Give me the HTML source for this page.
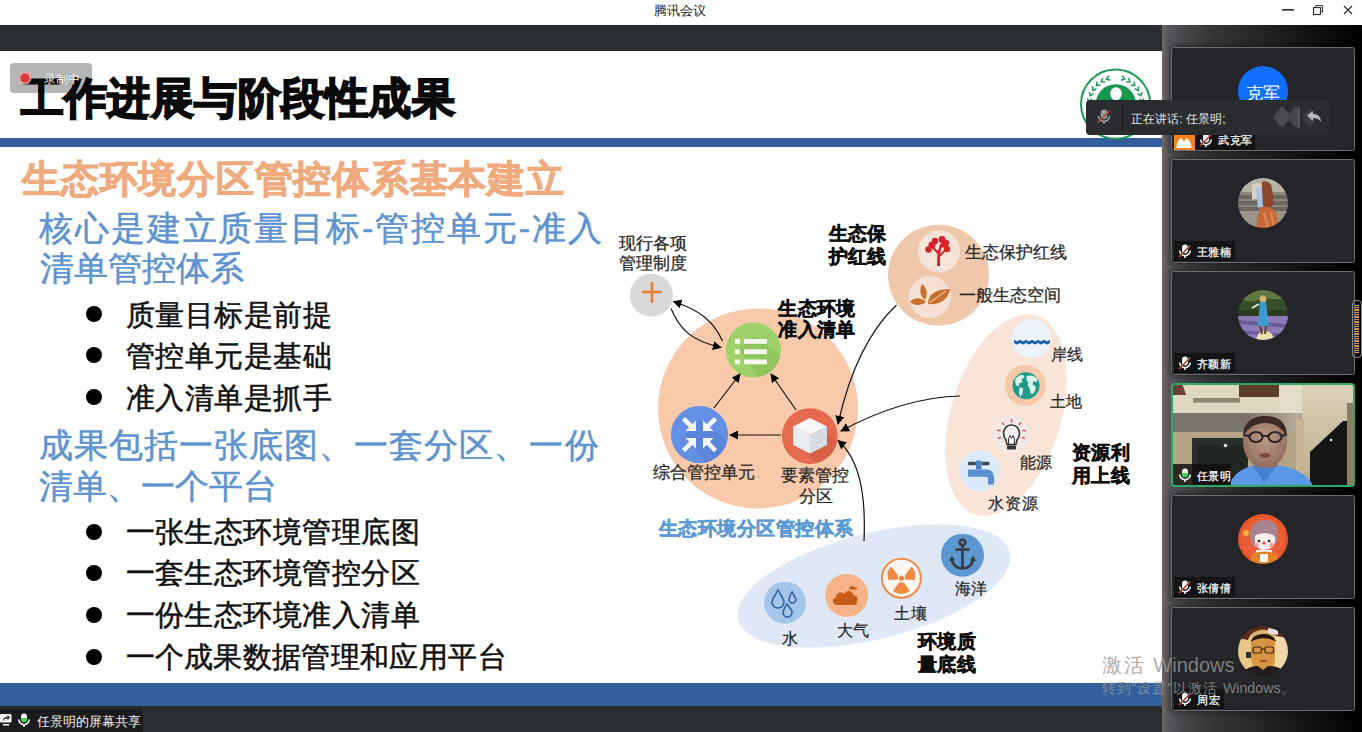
<!DOCTYPE html>
<html><head><meta charset="utf-8"><title>腾讯会议</title><style>
*{margin:0;padding:0;box-sizing:border-box}
html,body{width:1362px;height:732px;overflow:hidden;background:#fff}
body{position:relative;font-family:"Liberation Sans",sans-serif}
.t{position:absolute;line-height:1;white-space:nowrap;text-align:justify;text-align-last:justify}
.a{position:absolute}
svg{position:absolute;left:0;top:0;overflow:visible}
</style></head>
<body>
<div class="a" style="left:0;top:0;width:1362px;height:25px;background:#fff"></div>
<div class="t" style="left:654.0px;top:4.0px;font-size:13px;width:52.0px;color:#1a1a1a;">腾讯会议</div>
<svg width="1362" height="25" style="left:0;top:0">
<rect x="1282" y="9" width="12" height="1.6" fill="#333"/>
<rect x="1313.5" y="7.5" width="7" height="7" fill="none" stroke="#333" stroke-width="1.2"/>
<path d="M1316 7.5 V5.5 H1322.5 V12 H1320.5" fill="none" stroke="#444" stroke-width="1.2"/>
<path d="M1344 6 L1352 14 M1352 6 L1344 14" stroke="#333" stroke-width="1.3"/>
</svg>
<div class="a" style="left:0;top:25px;width:1162px;height:26px;background:#2b2e31"></div>
<div class="a" style="left:0;top:51px;width:1162px;height:655px;background:#fff"></div>
<div class="a" style="left:0;top:138px;width:1162px;height:9px;background:#325e9c"></div>
<div class="a" style="left:0;top:683px;width:1162px;height:23px;background:#335f9c"></div>
<div class="a" style="left:0;top:706px;width:1162px;height:26px;background:#2b2e31"></div>
<div class="t" style="left:20.5px;top:76.6px;font-size:42.8px;width:434.0px;color:#0a0a0a;font-weight:bold;-webkit-text-stroke:1.8px #0a0a0a;">工作进展与阶段性成果</div>
<div class="t" style="left:22.0px;top:161.2px;font-size:37.5px;width:542.0px;color:#efab7e;font-weight:bold;-webkit-text-stroke:0.9px #efab7e;">生态环境分区管控体系基本建立</div>
<div class="t" style="left:39.0px;top:210.5px;font-size:34px;width:563.0px;color:#5d93cf;-webkit-text-stroke:0.5px #5d93cf;">核心是建立质量目标-管控单元-准入</div>
<div class="t" style="left:39.5px;top:251.3px;font-size:34px;width:204.0px;color:#5d93cf;-webkit-text-stroke:0.5px #5d93cf;">清单管控体系</div>
<div class="t" style="left:38.5px;top:428.3px;font-size:34px;width:560.0px;color:#5d93cf;-webkit-text-stroke:0.5px #5d93cf;">成果包括一张底图、一套分区、一份</div>
<div class="t" style="left:38.5px;top:468.5px;font-size:34px;width:238.0px;color:#5d93cf;-webkit-text-stroke:0.5px #5d93cf;">清单、一个平台</div>
<div class="t" style="left:125.5px;top:301.3px;font-size:29px;width:206.5px;color:#111;-webkit-text-stroke:0.5px #111;">质量目标是前提</div>
<div class="a" style="left:85.7px;top:305.6px;width:16px;height:16px;border-radius:50%;background:#000"></div>
<div class="t" style="left:125.5px;top:342.4px;font-size:29px;width:206.5px;color:#111;-webkit-text-stroke:0.5px #111;">管控单元是基础</div>
<div class="a" style="left:85.7px;top:347.4px;width:16px;height:16px;border-radius:50%;background:#000"></div>
<div class="t" style="left:125.5px;top:384.2px;font-size:29px;width:206.5px;color:#111;-webkit-text-stroke:0.5px #111;">准入清单是抓手</div>
<div class="a" style="left:85.7px;top:389.0px;width:16px;height:16px;border-radius:50%;background:#000"></div>
<div class="t" style="left:125.5px;top:517.5px;font-size:29px;width:294.0px;color:#111;-webkit-text-stroke:0.5px #111;">一张生态环境管理底图</div>
<div class="a" style="left:85.7px;top:523.5px;width:16px;height:16px;border-radius:50%;background:#000"></div>
<div class="t" style="left:125.5px;top:558.8px;font-size:29px;width:294.0px;color:#111;-webkit-text-stroke:0.5px #111;">一套生态环境管控分区</div>
<div class="a" style="left:85.7px;top:564.8px;width:16px;height:16px;border-radius:50%;background:#000"></div>
<div class="t" style="left:125.5px;top:601.0px;font-size:29px;width:294.0px;color:#111;-webkit-text-stroke:0.5px #111;">一份生态环境准入清单</div>
<div class="a" style="left:85.7px;top:607.0px;width:16px;height:16px;border-radius:50%;background:#000"></div>
<div class="t" style="left:125.5px;top:643.0px;font-size:29px;width:381.0px;color:#111;-webkit-text-stroke:0.5px #111;">一个成果数据管理和应用平台</div>
<div class="a" style="left:85.7px;top:649.0px;width:16px;height:16px;border-radius:50%;background:#000"></div>
<svg width="1362" height="732" viewBox="0 0 1362 732">
<defs><marker id="ah" viewBox="0 0 10 10" refX="9" refY="5" markerWidth="9" markerHeight="9" markerUnits="userSpaceOnUse" orient="auto"><path d="M0 0 L10 5 L0 10 z" fill="#000"/></marker></defs>
<circle cx="758" cy="408.5" r="100" fill="#f8caab"/>
<circle cx="938.5" cy="275.2" r="50.5" fill="#efc8ab"/>
<circle cx="939" cy="251.3" r="21" fill="#f7e4d9"/>
<circle cx="929.8" cy="297" r="21" fill="#f6e1d4"/>
<ellipse cx="1006" cy="415" rx="55" ry="104" transform="rotate(17 1006 415)" fill="#f9e5d8"/>
<ellipse cx="874" cy="586" rx="140" ry="53" transform="rotate(-14 874 586)" fill="#dfe8f6"/>
<circle cx="651.4" cy="295.2" r="21.5" fill="#d9d9d9"/>
<path d="M642 292 H662 M652 282 V303" stroke="#ea7d37" stroke-width="2.6"/>
<circle cx="753.4" cy="350" r="27.5" fill="#9ed169"/>
<clipPath id="sg"><circle cx="753.4" cy="350" r="27.5"/></clipPath><path clip-path="url(#sg)" d="M739.4 350 L753.4 336 L800.9 369.5 L772.9 397.5 Z" fill="#7fb850" opacity="0.45"/>
<rect x="735" y="339" width="5" height="4.8" fill="#f7f8f0"/><rect x="744" y="339" width="23" height="4.8" fill="#f7f8f0"/>
<rect x="735" y="349.3" width="5" height="4.8" fill="#f7f8f0"/><rect x="744" y="349.3" width="23" height="4.8" fill="#f7f8f0"/>
<rect x="735" y="359.5" width="5" height="4.8" fill="#f7f8f0"/><rect x="744" y="359.5" width="23" height="4.8" fill="#f7f8f0"/>
<circle cx="699.5" cy="434.6" r="28.6" fill="#6390e4"/>
<clipPath id="sb"><circle cx="699.5" cy="434.6" r="28.6"/></clipPath><path clip-path="url(#sb)" d="M685.5 434.6 L699.5 420.6 L748.1 455.20000000000005 L720.1 483.20000000000005 Z" fill="#4a74c8" opacity="0.35"/>
<circle cx="809.8" cy="436.1" r="27.9" fill="#e66a4f"/>
<clipPath id="sr"><circle cx="809.8" cy="436.1" r="27.9"/></clipPath><path clip-path="url(#sr)" d="M795.8 436.1 L809.8 422.1 L857.6999999999999 456.0 L829.6999999999999 484.0 Z" fill="#c9553e" opacity="0.45"/>
<path d="M810 418 L827 426.5 L810 435 L793 426.5 Z" fill="#f7f7f9"/>
<path d="M793 426.5 L810 435 L810 453.5 L793 445 Z" fill="#e9edf2"/>
<path d="M810 435 L827 426.5 L827 445 L810 453.5 Z" fill="#d5dce4"/>
<path d="M696.0 431.1 L685.5 431.1 L696.0 420.6 Z" fill="#f4f7fd"/><path d="M692.0 427.1 L683.5 418.6" stroke="#f4f7fd" stroke-width="4.4"/>
<path d="M703.0 431.1 L713.5 431.1 L703.0 420.6 Z" fill="#f4f7fd"/><path d="M707.0 427.1 L715.5 418.6" stroke="#f4f7fd" stroke-width="4.4"/>
<path d="M696.0 438.1 L685.5 438.1 L696.0 448.6 Z" fill="#f4f7fd"/><path d="M692.0 442.1 L683.5 450.6" stroke="#f4f7fd" stroke-width="4.4"/>
<path d="M703.0 438.1 L713.5 438.1 L703.0 448.6 Z" fill="#f4f7fd"/><path d="M707.0 442.1 L715.5 450.6" stroke="#f4f7fd" stroke-width="4.4"/>
<g fill="#d8232a"><path d="M937 266 L937.5 254 L931 247 L932.5 246 L938 251 L940 244 L942 244.5 L940 254 L945 249 L946.5 250 L940 257 L940 266 Z"/><circle cx="932" cy="245" r="3.6"/><circle cx="928.5" cy="249.5" r="3.2"/><circle cx="935" cy="241" r="3.2"/><circle cx="942" cy="239.5" r="3.4"/><circle cx="946" cy="243" r="3.2"/><circle cx="947" cy="249" r="3.2"/><circle cx="943" cy="245" r="2.6"/></g>
<g fill="#c8712f"><path d="M928 304 C928 294 936 289 950 289 C948 300 940 305 928 304 Z"/><path d="M925 300 C920 296 919 290 922 284 C927 288 928 294 925 300 Z"/><path d="M910 302 C914 297 921 297 926 302 C921 306 914 306 910 302 Z"/></g>
<path d="M929 303 L946 291" stroke="#f6e1d4" stroke-width="0.9"/>
<circle cx="1031.5" cy="339" r="19.5" fill="#edf3fa"/>
<path d="M1014 339.5 q3 3.5 6 0 q3 3.5 6 0 q3 3.5 6 0 q3 3.5 6 0 q3 3.5 6 0 q3 3.5 6 0 v3.2 q-3 3.5 -6 0 q-3 3.5 -6 0 q-3 3.5 -6 0 q-3 3.5 -6 0 q-3 3.5 -6 0 q-3 3.5 -6 0 z" fill="#1f63ad"/>
<circle cx="1025.3" cy="385.3" r="20.5" fill="#f7c9aa"/>
<circle cx="1026" cy="385.8" r="13.5" fill="#1c9b8b"/>
<g transform="translate(2.5 0.3)">
<g fill="#dff0ea"><path d="M1012.5 380 C1014 376 1018 374 1021 375 L1022 377 L1019 379 L1020 382 L1017 383 L1016 386 L1013.5 385 Z"/><path d="M1017 387 L1020.5 388 L1020 393 L1018 397 L1016.5 393 Z"/><path d="M1024 376 C1028 374 1033 376 1035 379 L1034 382 L1031 381 L1030 384 L1033 386 L1033 390 L1030 394 L1028 393 L1027 388 L1025 385 L1026 382 L1024 380 Z"/></g>
</g>
<circle cx="1011.5" cy="434" r="18.5" fill="#f1e9e6"/>
<g transform="translate(0.5 4.5)">
<g stroke="#e0525a" stroke-width="1.5"><path d="M1011 414.5 v3.5 M1001.5 418 l2 2.5 M1020.5 418 l-2 2.5 M996.5 426 h3.5 M1022 426 h3.5 M997.5 434 l3-1 M1024.5 434 l-3-1"/></g>
<path d="M1005.5 435.5 C1001 430 1003 420.5 1011 420.5 C1019 420.5 1021 430 1016.5 435.5 L1015.5 440 H1006.5 Z" fill="#f4f0ef" stroke="#333" stroke-width="1.6"/>
<path d="M1008 440 v-6 l1.5 -3 l1.5 3 l1.5 -3 l1.5 3 v6" fill="none" stroke="#333" stroke-width="1"/>
<rect x="1006.5" y="441" width="9" height="4" rx="1" fill="#333"/>
</g>
<circle cx="979.8" cy="471" r="20.5" fill="#dce9f7"/>
<rect x="968" y="461.8" width="8" height="3.4" rx="1.2" fill="#3f4a55"/><rect x="981.5" y="461.8" width="8" height="3.4" rx="1.2" fill="#3f4a55"/>
<path d="M976 460.5 h5.5 v9 h-5.5z" fill="#4f80c0"/>
<path d="M968 469.5 H986 C991 469.5 994 472.5 994 477 V484.5 H988 V479 C988 477.5 987 476.8 985.5 476.8 H968 Z" fill="#5b8fd0"/>
<circle cx="785" cy="602.7" r="21" fill="#a5c6e8"/>
<g fill="none" stroke="#2f63a4" stroke-width="1.6"><path d="M778 590 C775 596 772 599 772 602 a6 6 0 0 0 12 0 C784 599 781 596 778 590 Z"/><path d="M792 592 C790 596 789 597.5 789 599.5 a3.5 3.5 0 0 0 7 0 C796 597.5 794 596 792 592 Z"/><path d="M787 604 C785 608 783 610 783 612.5 a4.5 4.5 0 0 0 9 0 C792 610 790 608 787 604 Z"/></g>
<circle cx="846.7" cy="595.3" r="21.5" fill="#f5b387"/>
<path d="M835 604 C832 604 832 598 836 597.5 C836 593 841 591 844 594 C846 589.5 853 590 853.5 595.5 C857 595 858.5 599 856.5 601.5 C858 604 856 605 854 605 H836 Z" fill="#c75c14"/>
<path d="M849 588.5 C849.5 586 852.5 585 854 587 C856 586.5 857.5 588 857 589.5 H849 Z" fill="#c75c14"/>
<circle cx="901.4" cy="578.2" r="19.5" fill="#fdf6f2" stroke="#ee8a45" stroke-width="2"/>
<g fill="#ef8a42"><circle cx="901.4" cy="578.2" r="2.6"/><path d="M897.8 575.3 L891 566.5 A13 13 0 0 0 888.4 580 L898 579.5 Z"/><path d="M905 575.3 L911.8 566.5 A13 13 0 0 1 914.4 580 L904.8 579.5 Z"/><path d="M899 582.5 L893 591 A13 13 0 0 0 909.8 591 L903.8 582.5 Z"/></g>
<circle cx="962.5" cy="555.2" r="21.5" fill="#5d97d2"/>
<g fill="none" stroke="#3b3f45" stroke-width="2.8"><circle cx="962.5" cy="542.5" r="2.8"/><path d="M962.5 545.5 V568"/><path d="M955.5 549.5 H969.5"/><path d="M951.5 558 C952.5 565 957 568.5 962.5 568.5 C968 568.5 972.5 565 973.5 558"/></g>
<path d="M948.5 561 l3.5 -5.5 l3 5 z M976.5 561 l-3.5 -5.5 l-3 5 z" fill="#3b3f45"/>
<path d="M781 435 L730 435" fill="none" stroke="#111" stroke-width="1.2" marker-end="url(#ah)"/>
<path d="M714 408 L740 374" fill="none" stroke="#111" stroke-width="1.2" marker-end="url(#ah)"/>
<path d="M796 410 L771 374" fill="none" stroke="#111" stroke-width="1.2" marker-end="url(#ah)"/>
<path d="M722.5 341 C714 322 700 310 673.5 301.5" fill="none" stroke="#111" stroke-width="1.2" marker-end="url(#ah)"/>
<path d="M671 308.5 C680 330 692 341 721 347.5" fill="none" stroke="#111" stroke-width="1.2" marker-end="url(#ah)"/>
<path d="M896.5 305 C870 330 850 370 838 424" fill="none" stroke="#111" stroke-width="1.2" marker-end="url(#ah)"/>
<path d="M960 396 C920 397 880 410 841 431" fill="none" stroke="#111" stroke-width="1.2" marker-end="url(#ah)"/>
<path d="M864 541 C866 495 860 460 838 440.5" fill="none" stroke="#111" stroke-width="1.2" marker-end="url(#ah)"/>
</svg>
<div class="t" style="left:619.0px;top:234.9px;font-size:16.5px;width:67.0px;color:#262626;-webkit-text-stroke:0.25px #262626;">现行各项</div>
<div class="t" style="left:619.0px;top:254.9px;font-size:16.5px;width:67.0px;color:#262626;-webkit-text-stroke:0.25px #262626;">管理制度</div>
<div class="t" style="left:778.4px;top:298.8px;font-size:19px;width:77.1px;color:#0d0d0d;font-weight:bold;-webkit-text-stroke:0.5px #0d0d0d;">生态环境</div>
<div class="t" style="left:778.4px;top:320.3px;font-size:19px;width:77.1px;color:#0d0d0d;font-weight:bold;-webkit-text-stroke:0.5px #0d0d0d;">准入清单</div>
<div class="t" style="left:828.8px;top:225.1px;font-size:18.8px;width:57.0px;color:#0d0d0d;font-weight:bold;-webkit-text-stroke:0.5px #0d0d0d;">生态保</div>
<div class="t" style="left:828.8px;top:248.0px;font-size:18.8px;width:57.0px;color:#0d0d0d;font-weight:bold;-webkit-text-stroke:0.5px #0d0d0d;">护红线</div>
<div class="t" style="left:965.0px;top:244.8px;font-size:16.7px;width:101.5px;color:#262626;-webkit-text-stroke:0.25px #262626;">生态保护红线</div>
<div class="t" style="left:958.5px;top:287.2px;font-size:16.5px;width:100.0px;color:#262626;-webkit-text-stroke:0.25px #262626;">一般生态空间</div>
<div class="t" style="left:1051.1px;top:346.9px;font-size:16px;width:32.4px;color:#262626;-webkit-text-stroke:0.25px #262626;">岸线</div>
<div class="t" style="left:1050.2px;top:394.3px;font-size:16px;width:32.3px;color:#262626;-webkit-text-stroke:0.25px #262626;">土地</div>
<div class="t" style="left:1019.5px;top:454.5px;font-size:16px;width:32.8px;color:#262626;-webkit-text-stroke:0.25px #262626;">能源</div>
<div class="t" style="left:988.0px;top:495.2px;font-size:16.4px;width:50.1px;color:#262626;-webkit-text-stroke:0.25px #262626;">水资源</div>
<div class="t" style="left:1072.0px;top:443.6px;font-size:18.8px;width:57.5px;color:#0d0d0d;font-weight:bold;-webkit-text-stroke:0.5px #0d0d0d;">资源利</div>
<div class="t" style="left:1072.0px;top:467.3px;font-size:18.8px;width:57.5px;color:#0d0d0d;font-weight:bold;-webkit-text-stroke:0.5px #0d0d0d;">用上线</div>
<div class="t" style="left:652.9px;top:465.3px;font-size:16.6px;width:100.6px;color:#262626;-webkit-text-stroke:0.25px #262626;">综合管控单元</div>
<div class="t" style="left:780.5px;top:467.8px;font-size:16.6px;width:67.6px;color:#262626;-webkit-text-stroke:0.25px #262626;">要素管控</div>
<div class="t" style="left:799.2px;top:488.7px;font-size:16.6px;width:31.7px;color:#262626;-webkit-text-stroke:0.25px #262626;">分区</div>
<div class="t" style="left:658.9px;top:518.6px;font-size:19.3px;width:194.2px;color:#5b9bd5;font-weight:bold;-webkit-text-stroke:0.5px #5b9bd5;">生态环境分区管控体系</div>
<div class="t" style="left:782.2px;top:631.2px;font-size:16px;width:16.1px;color:#262626;-webkit-text-stroke:0.25px #262626;">水</div>
<div class="t" style="left:836.7px;top:622.5px;font-size:16px;width:32.4px;color:#262626;-webkit-text-stroke:0.25px #262626;">大气</div>
<div class="t" style="left:893.5px;top:606.2px;font-size:16px;width:33.6px;color:#262626;-webkit-text-stroke:0.25px #262626;">土壤</div>
<div class="t" style="left:955.2px;top:580.7px;font-size:16px;width:32.3px;color:#262626;-webkit-text-stroke:0.25px #262626;">海洋</div>
<div class="t" style="left:917.9px;top:632.1px;font-size:19px;width:58.0px;color:#0d0d0d;font-weight:bold;-webkit-text-stroke:0.5px #0d0d0d;">环境质</div>
<div class="t" style="left:917.9px;top:655.2px;font-size:19px;width:58.0px;color:#0d0d0d;font-weight:bold;-webkit-text-stroke:0.5px #0d0d0d;">量底线</div>
<div class="a" style="left:1162px;top:25px;width:200px;height:707px;background:linear-gradient(to right,#6e6964 0px,#5a585c 6px,#47474b 20px,#363638 50px,#242426 100px,#111112 150px,#000 200px)"></div>
<div class="a" style="left:1171px;top:47px;width:184px;height:104px;border:1px solid #6c6c6e;border-radius:2.5px;background:#242528;box-shadow:0 0 5px 2px rgba(0,0,0,0.35)"></div>
<div class="a" style="left:1237.5px;top:66px;width:50px;height:50px;border-radius:50%;background:#0f6efc"></div>
<div class="t" style="left:1245.5px;top:84.5px;font-size:17px;width:34.0px;color:#fff;">克军</div>
<div class="a" style="left:1174px;top:135px;width:20.5px;height:15px;background:#f5821f"></div>
<svg width="20" height="15" style="left:1174px;top:135px" viewBox="0 0 20 15"><path d="M2.5 13 C2.5 7.5 5 3.5 8 3.2 L10 6.8 L12 3.2 C15 3.5 17.5 7.5 17.5 13 Z" fill="#fff9ef"/></svg>
<div class="a" style="left:1194.5px;top:130px;width:60px;height:19.8px;background:#121214"></div>
<svg width="14" height="15" style="left:1199px;top:133px" viewBox="0 0 14 15"><rect x="4" y="0.5" width="6" height="9" rx="3" fill="#f2f2f2"/><path d="M1.8 6.5 a5.2 5.2 0 0 0 10.4 0" fill="none" stroke="#f2f2f2" stroke-width="1.6"/><path d="M7 11.5 V14" stroke="#f2f2f2" stroke-width="1.6"/><path d="M1 13 L12.5 1.5" stroke="#b8443a" stroke-width="1.6"/></svg><div class="t" style="left:1218.0px;top:135.3px;font-size:11.3px;width:34.0px;color:#fff;-webkit-text-stroke:0.25px #fff;">武克军</div>
<div class="a" style="left:1171px;top:159px;width:184px;height:104px;border:1px solid #6c6c6e;border-radius:2.5px;background:#242528;box-shadow:0 0 5px 2px rgba(0,0,0,0.35)"></div>
<svg width="50" height="50" viewBox="0 0 50 50" style="left:1237.5px;top:178px"><defs><clipPath id="cp1"><circle cx="25" cy="25" r="25"/></clipPath><filter id="bl1" x="-5%" y="-5%" width="110%" height="110%"><feGaussianBlur stdDeviation="0.7"/></filter></defs><g clip-path="url(#cp1)"><g filter="url(#bl1)"><rect width="50" height="50" fill="#6e6860"/><rect y="0" width="50" height="14" fill="#b8b2a6"/><path d="M0 14 H50 V17 H0Z M0 21 H50 V23 H0Z M0 27 H50 V29 H0Z" fill="#8c877c"/><rect y="33" width="50" height="17" fill="#9a9388"/><path d="M14 8 C16 4 22 4 24 8 L23 20 L14 22 Z" fill="#d9d2c4"/><path d="M18 10 L24 8 L27 28 L20 30 Z" fill="#a9c4e4"/><path d="M24 4 C28 2 33 4 34 10 L36 26 L30 32 L25 28 L24 12 Z" fill="#8a4a2e"/><path d="M22 30 C26 28 33 28 38 34 L41 50 H18 L20 38 Z" fill="#c7693a"/><path d="M26 34 L30 50 M33 34 L36 50" stroke="#e08a50" stroke-width="2"/></g></g></svg>
<div class="a" style="left:1174px;top:241px;width:60.9px;height:19.5px;background:#141416"></div>
<svg width="14" height="15" style="left:1178px;top:244px" viewBox="0 0 14 15"><rect x="4" y="0.5" width="6" height="9" rx="3" fill="#f2f2f2"/><path d="M1.8 6.5 a5.2 5.2 0 0 0 10.4 0" fill="none" stroke="#f2f2f2" stroke-width="1.6"/><path d="M7 11.5 V14" stroke="#f2f2f2" stroke-width="1.6"/><path d="M1 13 L12.5 1.5" stroke="#b8443a" stroke-width="1.6"/></svg><div class="t" style="left:1197.0px;top:247.3px;font-size:11.3px;width:33.9px;color:#fff;-webkit-text-stroke:0.25px #fff;">王雅楠</div>
<div class="a" style="left:1171px;top:271px;width:184px;height:104px;border:1px solid #6c6c6e;border-radius:2.5px;background:#242528;box-shadow:0 0 5px 2px rgba(0,0,0,0.35)"></div>
<svg width="50" height="50" viewBox="0 0 50 50" style="left:1237.5px;top:290px"><defs><clipPath id="cp2"><circle cx="25" cy="25" r="25"/></clipPath><filter id="bl2" x="-5%" y="-5%" width="110%" height="110%"><feGaussianBlur stdDeviation="0.7"/></filter></defs><g clip-path="url(#cp2)"><g filter="url(#bl2)"><rect width="50" height="50" fill="#7a6ea8"/><rect width="50" height="24" fill="#35502a"/><path d="M0 0 H50 V8 C40 12 30 6 20 10 C10 14 5 8 0 10Z" fill="#5e7a40"/><path d="M0 20 H50 V26 H0Z" fill="#2a3a22"/><path d="M0 26 H50 V50 H0Z" fill="#8c7cba"/><path d="M0 30 L50 34 V38 L0 34Z M0 40 L50 44 V47 L0 43Z" fill="#6a5c98"/><path d="M20 44 C24 40 30 40 34 44 L36 50 H18Z" fill="#e8e0b0"/><circle cx="25" cy="9" r="3.5" fill="#d8b070"/><path d="M22 12 L28 12 L31 36 L20 36 Z" fill="#3c9ad0"/><path d="M22 36 L24 44 M28 36 L27 44" stroke="#6a3a20" stroke-width="2"/><path d="M21 14 L14 18" stroke="#f0f0f0" stroke-width="1.5"/></g></g></svg>
<div class="a" style="left:1174px;top:353px;width:60.9px;height:19.5px;background:#141416"></div>
<svg width="14" height="15" style="left:1178px;top:356px" viewBox="0 0 14 15"><rect x="4" y="0.5" width="6" height="9" rx="3" fill="#f2f2f2"/><path d="M1.8 6.5 a5.2 5.2 0 0 0 10.4 0" fill="none" stroke="#f2f2f2" stroke-width="1.6"/><path d="M7 11.5 V14" stroke="#f2f2f2" stroke-width="1.6"/><path d="M1 13 L12.5 1.5" stroke="#b8443a" stroke-width="1.6"/></svg><div class="t" style="left:1197.0px;top:359.4px;font-size:11.3px;width:33.9px;color:#fff;-webkit-text-stroke:0.25px #fff;">齐颖新</div>
<svg width="184" height="104" viewBox="0 0 184 104" style="left:1171px;top:383px"><defs><clipPath id="vc"><rect x="1" y="1" width="182" height="102" rx="3"/></clipPath><linearGradient id="wallR" x1="0" y1="0" x2="0" y2="1"><stop offset="0" stop-color="#dcd3bb"/><stop offset="1" stop-color="#b9ab8c"/></linearGradient><linearGradient id="soff" x1="0" y1="0" x2="1" y2="0"><stop offset="0" stop-color="#7a736c"/><stop offset="0.6" stop-color="#7d756c"/><stop offset="1" stop-color="#b9ae9c"/></linearGradient><radialGradient id="face" cx="0.5" cy="0.45" r="0.6"><stop offset="0" stop-color="#c09a88"/><stop offset="1" stop-color="#8c6a5c"/></radialGradient></defs><filter id="vbl" x="0" y="0" width="100%" height="100%"><feGaussianBlur stdDeviation="0.6"/></filter><g clip-path="url(#vc)"><g filter="url(#vbl)"><rect width="184" height="104" fill="#b5a588"/><rect x="0" y="0" width="132" height="30" fill="#e0d7c2"/><rect x="22" y="15" width="47" height="4.5" fill="#8c8472"/><rect x="68" y="0" width="41" height="14" fill="#5c3c2a"/><path d="M0 0 H11 L15 12 H0Z" fill="#6a4030"/><rect x="0" y="30" width="128" height="19" fill="url(#soff)"/><rect x="0" y="49" width="128" height="55" fill="#b4a384"/><rect x="21" y="55" width="56" height="49" fill="#2b2f2c"/><rect x="26" y="62" width="50" height="42" fill="#232523"/><circle cx="54.5" cy="62.5" r="1.8" fill="#eef2f4"/><rect x="131" y="0" width="53" height="104" fill="url(#wallR)"/><rect x="108" y="0" width="23" height="30" fill="#e3dccb"/><rect x="125" y="36" width="8" height="68" fill="#c6b696"/><path d="M139 69 L172 38 L176 38 V104 H139Z" fill="#171717"/><rect x="176" y="20" width="8" height="84" fill="#8a7e68"/><circle cx="160" cy="57" r="1.3" fill="#dfe6ec"/><path d="M58 104 C61 90 74 82 95 81 C118 82 138 90 142 104Z" fill="#5a97e4"/><path d="M82 82 L93 100 L106 82Z" fill="#4682cf"/><rect x="84" y="66" width="22" height="18" fill="#8f6e5e"/><ellipse cx="94" cy="59" rx="22" ry="26" fill="url(#face)"/><path d="M72 54 C72 38 83 33 94 33 C106 33 116 38 116 54 C111 44 103 40 94 40 C86 40 77 44 72 54Z" fill="#3b2b25"/><g fill="none" stroke="#2d2629" stroke-width="2.2"><ellipse cx="85" cy="54" rx="6.5" ry="5"/><ellipse cx="104" cy="54" rx="6.5" ry="5"/><path d="M91.5 53 H97.5 M78.5 53 L73 52 M110.5 53 L115 52"/></g><ellipse cx="94" cy="72.5" rx="5.5" ry="2.6" fill="#7a4c44"/></g><rect x="0" y="81" width="60" height="23" fill="rgba(16,14,14,0.82)"/></g><rect x="1" y="1" width="182" height="102" rx="3" fill="none" stroke="#2ea865" stroke-width="2"/></svg>
<svg width="14" height="15" style="left:1178px;top:468px" viewBox="0 0 14 15"><defs><linearGradient id="mg" x1="0" y1="0" x2="0" y2="1"><stop offset="0.45" stop-color="#f4f4f4"/><stop offset="0.45" stop-color="#3fd35a"/></linearGradient></defs><rect x="4" y="0.5" width="6" height="9" rx="3" fill="url(#mg)"/><path d="M1.8 6.5 a5.2 5.2 0 0 0 10.4 0" fill="none" stroke="#f2f2f2" stroke-width="1.6"/><path d="M7 11.5 V14" stroke="#f2f2f2" stroke-width="1.6"/></svg><div class="t" style="left:1197.0px;top:471.4px;font-size:11.3px;width:33.9px;color:#fff;-webkit-text-stroke:0.25px #fff;">任景明</div>
<div class="a" style="left:1171px;top:495px;width:184px;height:104px;border:1px solid #6c6c6e;border-radius:2.5px;background:#242528;box-shadow:0 0 5px 2px rgba(0,0,0,0.35)"></div>
<svg width="50" height="50" viewBox="0 0 50 50" style="left:1237.5px;top:514px"><defs><clipPath id="cp4"><circle cx="25" cy="25" r="25"/></clipPath><filter id="bl4" x="-5%" y="-5%" width="110%" height="110%"><feGaussianBlur stdDeviation="0.7"/></filter></defs><g clip-path="url(#cp4)"><g filter="url(#bl4)"><rect width="50" height="50" fill="#e4542c"/><circle cx="25" cy="25" r="22" fill="#ea5d34"/><path d="M12 22 C12 10 20 6 27 6 C36 6 41 12 40 24 L38 30 L14 32 Z" fill="#a98590"/><circle cx="8" cy="19" r="3" fill="#f0b040"/><path d="M17 22 C20 18 36 18 37 24 C38 32 32 36 26 36 C20 36 16 31 17 22Z" fill="#fdf0ee"/><circle cx="21" cy="27" r="1.3" fill="#222"/><circle cx="31" cy="27" r="1.3" fill="#222"/><circle cx="26" cy="29" r="1.6" fill="#e04040"/><circle cx="18.5" cy="31" r="2.2" fill="#f4a0a0"/><circle cx="33.5" cy="31" r="2.2" fill="#f4a0a0"/><path d="M18 36 H34 V40 H18Z" fill="#f4f4f0"/><path d="M14 40 C18 37 34 37 39 40 L40 50 H12Z" fill="#e8802c"/><path d="M22 40 H30 V48 H22Z" fill="#f4f4f0"/></g></g></svg>
<div class="a" style="left:1174px;top:577px;width:60.9px;height:19.5px;background:#141416"></div>
<svg width="14" height="15" style="left:1178px;top:580px" viewBox="0 0 14 15"><rect x="4" y="0.5" width="6" height="9" rx="3" fill="#f2f2f2"/><path d="M1.8 6.5 a5.2 5.2 0 0 0 10.4 0" fill="none" stroke="#f2f2f2" stroke-width="1.6"/><path d="M7 11.5 V14" stroke="#f2f2f2" stroke-width="1.6"/><path d="M1 13 L12.5 1.5" stroke="#b8443a" stroke-width="1.6"/></svg><div class="t" style="left:1197.0px;top:583.4px;font-size:11.3px;width:33.9px;color:#fff;-webkit-text-stroke:0.25px #fff;">张倩倩</div>
<div class="a" style="left:1171px;top:607px;width:184px;height:104px;border:1px solid #6c6c6e;border-radius:2.5px;background:#242528;box-shadow:0 0 5px 2px rgba(0,0,0,0.35)"></div>
<svg width="50" height="50" viewBox="0 0 50 50" style="left:1237.5px;top:626px"><defs><clipPath id="cp5"><circle cx="25" cy="25" r="25"/></clipPath><filter id="bl5" x="-5%" y="-5%" width="110%" height="110%"><feGaussianBlur stdDeviation="0.7"/></filter></defs><g clip-path="url(#cp5)"><g filter="url(#bl5)"><rect width="50" height="50" fill="#d8b070"/><rect x="0" y="0" width="14" height="50" fill="#e8c888"/><rect x="37" y="0" width="13" height="50" fill="#f0d8a8"/><rect x="8" y="26" width="6" height="6" fill="#3a3028"/><path d="M0 0 H50 V12 L38 10 C34 4 28 3 22 4 C16 5 12 8 10 14 L0 12Z" fill="#5a2a1a"/><path d="M30 2 L40 4 L40 9 L30 7Z" fill="#e8e0f0"/><path d="M13 18 C13 6 37 6 37 18 L37 30 C37 40 30 44 25 44 C20 44 13 40 13 30 Z" fill="#d89440"/><path d="M13 16 C14 6 36 5 38 16 C33 11 19 11 13 16Z" fill="#241410"/><g fill="none" stroke="#3a2a20" stroke-width="1.2"><rect x="15" y="21" width="8.5" height="6" rx="2"/><rect x="27" y="21" width="8.5" height="6" rx="2"/><path d="M23.5 23 H27"/></g><path d="M22 35 H29" stroke="#8a4020" stroke-width="1.4"/><path d="M4 50 C6 42 14 40 20 40 L25 44 L30 40 C38 40 46 42 48 50Z" fill="#241c1a"/></g></g></svg>
<div class="a" style="left:1174px;top:689px;width:49.6px;height:19.5px;background:#141416"></div>
<svg width="14" height="15" style="left:1178px;top:692px" viewBox="0 0 14 15"><rect x="4" y="0.5" width="6" height="9" rx="3" fill="#f2f2f2"/><path d="M1.8 6.5 a5.2 5.2 0 0 0 10.4 0" fill="none" stroke="#f2f2f2" stroke-width="1.6"/><path d="M7 11.5 V14" stroke="#f2f2f2" stroke-width="1.6"/><path d="M1 13 L12.5 1.5" stroke="#b8443a" stroke-width="1.6"/></svg><div class="t" style="left:1197.0px;top:695.4px;font-size:11.3px;width:22.6px;color:#fff;-webkit-text-stroke:0.25px #fff;">周宏</div>
<div class="a" style="left:1352px;top:300px;width:9.5px;height:58px;border:1px solid #8a8a8a;border-radius:4px;background:repeating-linear-gradient(to bottom,#2a1a10 0px,#2a1a10 1px,#e59b3c 1px,#e59b3c 2.4px);background-clip:content-box;padding:4px 1.5px"></div>
<svg width="1362" height="732" style="left:0;top:0"><circle cx="1115.6" cy="104.2" r="34.6" fill="#fff" stroke="#1b9a55" stroke-width="2"/><circle cx="1115.8" cy="104.5" r="20.3" fill="#16984f"/><ellipse cx="1116" cy="93.6" rx="5.8" ry="6.4" fill="#fff"/><path d="M1122.4 75.8 L1124.7 79.1 L1120.9 80.2" fill="none" stroke="#1b9a55" stroke-width="1.5"/><path d="M1128.6 78.1 L1130.0 81.8 L1126.1 82.0" fill="none" stroke="#1b9a55" stroke-width="1.5"/><path d="M1134.1 81.7 L1134.7 85.6 L1130.8 84.9" fill="none" stroke="#1b9a55" stroke-width="1.5"/><path d="M1138.6 86.4 L1138.3 90.4 L1134.7 88.8" fill="none" stroke="#1b9a55" stroke-width="1.5"/><path d="M1142.0 92.1 L1140.8 95.8 L1137.6 93.5" fill="none" stroke="#1b9a55" stroke-width="1.5"/><path d="M1144.0 98.3 L1142.0 101.7 L1139.4 98.7" fill="none" stroke="#1b9a55" stroke-width="1.5"/><path d="M1108.8 75.8 L1106.5 79.1 L1110.3 80.2" fill="none" stroke="#1b9a55" stroke-width="1.5"/><path d="M1102.6 78.1 L1101.2 81.8 L1105.1 82.0" fill="none" stroke="#1b9a55" stroke-width="1.5"/><path d="M1097.1 81.7 L1096.5 85.6 L1100.4 84.9" fill="none" stroke="#1b9a55" stroke-width="1.5"/><path d="M1092.6 86.4 L1092.9 90.4 L1096.5 88.8" fill="none" stroke="#1b9a55" stroke-width="1.5"/><path d="M1089.2 92.1 L1090.4 95.8 L1093.6 93.5" fill="none" stroke="#1b9a55" stroke-width="1.5"/><path d="M1087.2 98.3 L1089.2 101.7 L1091.8 98.7" fill="none" stroke="#1b9a55" stroke-width="1.5"/></svg>
<div class="a" style="left:10px;top:63px;width:82px;height:29.5px;border-radius:4px;background:rgba(0,0,0,0.29)"></div>
<svg width="16" height="16" style="left:17px;top:69.5px" viewBox="0 0 16 16"><circle cx="8" cy="8" r="6.5" fill="#f0a0a0" opacity="0.9"/><circle cx="8" cy="8" r="4.6" fill="#d83a3a"/></svg>
<div class="t" style="left:44.0px;top:72.7px;font-size:11.6px;width:35.0px;color:#fff;text-shadow:0 0 1px rgba(0,0,0,0.35);">录制中</div>
<div class="a" style="left:1086px;top:100px;width:243px;height:35px;border-radius:4px;background:#2b2c2f"></div>
<div class="a" style="left:1122px;top:104px;width:1px;height:27px;background:#141416"></div>
<svg width="16" height="16" style="left:1096px;top:109px" viewBox="0 0 14 15"><rect x="4" y="0.5" width="6" height="9" rx="3" fill="#9a9a9c"/><path d="M1.8 6.5 a5.2 5.2 0 0 0 10.4 0" fill="none" stroke="#9a9a9c" stroke-width="1.6"/><path d="M7 11.5 V14" stroke="#9a9a9c" stroke-width="1.6"/><path d="M1 13 L12.5 1.5" stroke="#b04a40" stroke-width="1.4"/></svg>
<div class="t" style="left:1131.0px;top:112.8px;font-size:12px;width:94.5px;color:#e6e6e6;">正在讲话: 任景明;</div>
<svg width="60" height="30" style="left:1270px;top:103px" viewBox="0 0 60 30"><path d="M3 14 L12 3 L22 14 L12 25 Z" fill="#4a4b4e"/><path d="M17 14 L26 3 L29 7 L29 21 L26 25 Z" fill="#46474a"/><rect x="28.5" y="4" width="1" height="21" fill="#77787b"/><path d="M32 14 L40 5 L48 14 L40 24 Z" fill="#3c3d40"/><path d="M37 12.5 L43 8 L43 11 C48 11 51 14 51 19 C49 16 47 15 43 15 L43 18 Z" fill="#b9babc"/></svg>
<div class="a" style="left:0;top:708.5px;width:143px;height:23.5px;border-radius:0 5px 0 0;background:#1b1b1d"></div>
<svg width="14" height="14" style="left:0;top:713px" viewBox="0 0 14 14"><rect x="0" y="1" width="11.5" height="8.5" rx="1" fill="#f0f0f0"/><rect x="3" y="11" width="6" height="1.6" fill="#f0f0f0"/><path d="M2.5 8 C3 5 5 3.8 7.5 3.8 V2 L10 4.6 L7.5 7.2 V5.5 C5.5 5.5 4 6.3 2.5 8 Z" fill="#333"/></svg>
<svg width="14" height="15" style="left:17px;top:712.5px" viewBox="0 0 14 15"><defs><linearGradient id="mg" x1="0" y1="0" x2="0" y2="1"><stop offset="0.45" stop-color="#f4f4f4"/><stop offset="0.45" stop-color="#3fd35a"/></linearGradient></defs><rect x="4" y="0.5" width="6" height="9" rx="3" fill="url(#mg)"/><path d="M1.8 6.5 a5.2 5.2 0 0 0 10.4 0" fill="none" stroke="#f2f2f2" stroke-width="1.6"/><path d="M7 11.5 V14" stroke="#f2f2f2" stroke-width="1.6"/></svg><div class="t" style="left:36.5px;top:715.5px;font-size:12.9px;width:103.5px;color:#f2f2f2;">任景明的屏幕共享</div>
<div class="t" style="left:1101.5px;top:654.5px;font-size:20px;width:133.0px;color:rgba(150,150,150,0.8);">激活 Windows</div>
<div class="t" style="left:1101.5px;top:681.4px;font-size:14.2px;width:194.0px;color:rgba(150,150,150,0.8);">转到“设置”以激活 Windows。</div>

</body></html>
